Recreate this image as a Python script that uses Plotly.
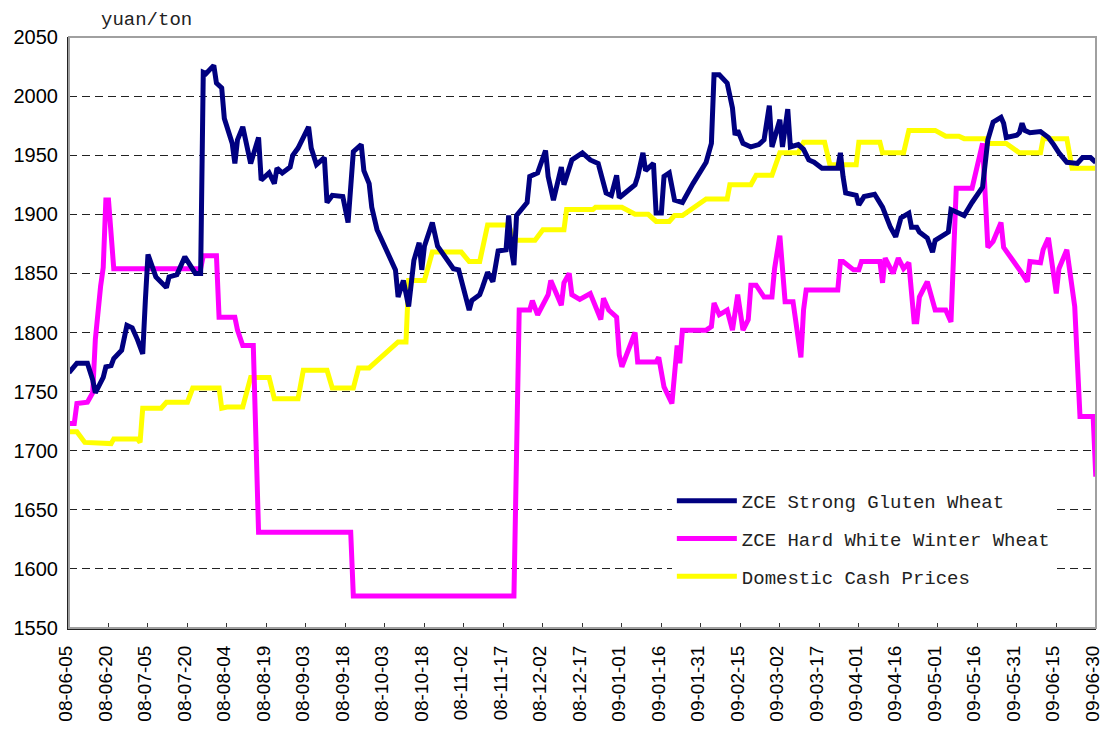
import plotly.graph_objects as go

# ---- ZCE Strong Gluten Wheat ----
sg_dates = ["2008-06-05","2008-06-08","2008-06-12","2008-06-14","2008-06-15","2008-06-18","2008-06-19","2008-06-21","2008-06-22","2008-06-25",
"2008-06-27","2008-06-29","2008-07-01","2008-07-03","2008-07-04","2008-07-05","2008-07-08","2008-07-12","2008-07-13","2008-07-16",
"2008-07-19","2008-07-22","2008-07-23","2008-07-25","2008-07-26","2008-07-27","2008-07-30","2008-07-31","2008-08-02","2008-08-03",
"2008-08-05","2008-08-06","2008-08-07","2008-08-08","2008-08-10","2008-08-13","2008-08-16","2008-08-17","2008-08-20","2008-08-22",
"2008-08-23","2008-08-25","2008-08-28","2008-08-29","2008-08-31","2008-09-04","2008-09-05","2008-09-07","2008-09-10","2008-09-11",
"2008-09-13","2008-09-17","2008-09-19","2008-09-21","2008-09-24","2008-09-25","2008-09-27","2008-09-28","2008-09-30","2008-10-07",
"2008-10-08","2008-10-10","2008-10-12","2008-10-14","2008-10-16","2008-10-17","2008-10-18","2008-10-21","2008-10-23","2008-10-27",
"2008-10-29","2008-10-31","2008-11-02","2008-11-04","2008-11-05","2008-11-08","2008-11-09","2008-11-11","2008-11-13","2008-11-15",
"2008-11-18","2008-11-19","2008-11-20","2008-11-21","2008-11-22","2008-11-24","2008-11-26","2008-11-27","2008-11-30","2008-12-03",
"2008-12-04","2008-12-06","2008-12-09","2008-12-10","2008-12-13","2008-12-17","2008-12-20","2008-12-23","2008-12-26","2008-12-28",
"2008-12-30","2008-12-31","2009-01-03","2009-01-06","2009-01-07","2009-01-09","2009-01-10","2009-01-13","2009-01-14","2009-01-16",
"2009-01-17","2009-01-19","2009-01-21","2009-01-24","2009-01-28","2009-02-02","2009-02-04","2009-02-05","2009-02-07","2009-02-10",
"2009-02-12","2009-02-13","2009-02-14","2009-02-16","2009-02-19","2009-02-22","2009-02-24","2009-02-26","2009-02-27","2009-03-02",
"2009-03-03","2009-03-05","2009-03-06","2009-03-09","2009-03-11","2009-03-13","2009-03-15","2009-03-18","2009-03-24","2009-03-25",
"2009-03-26","2009-03-27","2009-03-31","2009-04-01","2009-04-03","2009-04-07","2009-04-10","2009-04-13","2009-04-15","2009-04-17",
"2009-04-20","2009-04-21","2009-04-23","2009-04-24","2009-04-27","2009-04-29","2009-04-30","2009-05-05","2009-05-06","2009-05-08",
"2009-05-11","2009-05-14","2009-05-18","2009-05-20","2009-05-22","2009-05-25","2009-05-26","2009-05-27","2009-05-31","2009-06-01",
"2009-06-02","2009-06-03","2009-06-05","2009-06-09","2009-06-12","2009-06-14","2009-06-16","2009-06-19","2009-06-23","2009-06-25",
"2009-06-28","2009-06-30"]
sg_values = [1766,1774,1774,1760,1749,1762,1771,1772,1778,1785,
1806,1804,1794,1782,1827,1866,1847,1838,1847,1849,
1864,1854,1850,1850,2020,2019,2026,2011,2007,1981,
1967,1960,1943,1963,1974,1943,1965,1929,1935,1926,
1939,1935,1940,1950,1956,1974,1956,1942,1948,1910,
1916,1915,1893,1953,1959,1937,1926,1906,1887,1853,
1830,1844,1822,1861,1876,1853,1873,1893,1873,1861,
1854,1853,1836,1819,1827,1832,1838,1851,1843,1869,
1870,1899,1870,1857,1899,1905,1910,1932,1935,1954,
1932,1912,1940,1925,1946,1952,1946,1943,1918,1916,
1933,1914,1920,1925,1932,1952,1937,1943,1901,1901,
1932,1935,1912,1910,1926,1944,1960,2018,2018,2011,
1990,1967,1971,1960,1957,1959,1963,1992,1957,1980,
1957,1989,1957,1959,1955,1946,1944,1939,1939,1952,
1932,1918,1916,1908,1915,1917,1906,1889,1881,1897,
1901,1889,1889,1885,1880,1868,1878,1885,1904,1902,
1899,1910,1923,1963,1978,1982,1977,1965,1967,1969,
1977,1971,1969,1970,1965,1959,1952,1944,1943,1948,
1948,1944]

# ---- ZCE Hard White Winter Wheat ----
hw_dates = ["2008-06-05","2008-06-07","2008-06-08","2008-06-12","2008-06-14","2008-06-15","2008-06-17","2008-06-18","2008-06-19","2008-06-20",
"2008-06-22","2008-07-25","2008-07-26","2008-07-31","2008-08-01","2008-08-07","2008-08-08","2008-08-10","2008-08-14","2008-08-16",
"2008-09-20","2008-09-21","2008-11-21","2008-11-23","2008-11-27","2008-11-28","2008-11-30","2008-12-04","2008-12-05","2008-12-09",
"2008-12-10","2008-12-12","2008-12-13","2008-12-16","2008-12-20","2008-12-24","2008-12-25","2008-12-27","2008-12-30","2008-12-31",
"2009-01-01","2009-01-06","2009-01-07","2009-01-14","2009-01-15","2009-01-17","2009-01-20","2009-01-22","2009-01-23","2009-01-24",
"2009-02-02","2009-02-04","2009-02-05","2009-02-07","2009-02-10","2009-02-12","2009-02-14","2009-02-16","2009-02-18","2009-02-19",
"2009-02-21","2009-02-24","2009-02-27","2009-02-28","2009-03-02","2009-03-04","2009-03-07","2009-03-10","2009-03-11","2009-03-12",
"2009-03-24","2009-03-25","2009-03-26","2009-03-30","2009-04-01","2009-04-02","2009-04-09","2009-04-10","2009-04-11","2009-04-14",
"2009-04-16","2009-04-18","2009-04-20","2009-04-22","2009-04-23","2009-04-24","2009-04-27","2009-04-29","2009-04-30","2009-05-04",
"2009-05-06","2009-05-08","2009-05-14","2009-05-18","2009-05-20","2009-05-22","2009-05-25","2009-05-26","2009-06-01","2009-06-02",
"2009-06-04","2009-06-05","2009-06-09","2009-06-10","2009-06-12","2009-06-15","2009-06-16","2009-06-19","2009-06-22","2009-06-24",
"2009-06-29","2009-06-30"]
hw_values = [1723,1723,1740,1741,1749,1794,1839,1855,1912,1912,
1854,1854,1865,1865,1813,1813,1802,1789,1789,1631,
1631,1577,1577,1819,1819,1827,1815,1832,1844,1823,
1842,1850,1832,1828,1833,1811,1829,1819,1813,1781,
1771,1800,1775,1775,1779,1754,1740,1789,1774,1802,
1802,1805,1825,1815,1819,1802,1832,1802,1811,1840,
1840,1830,1830,1854,1882,1826,1826,1779,1819,1836,
1836,1860,1860,1853,1853,1860,1860,1842,1863,1850,
1863,1854,1859,1809,1809,1830,1843,1827,1819,1819,
1809,1922,1922,1960,1872,1877,1893,1872,1854,1850,
1843,1860,1859,1870,1880,1833,1854,1870,1822,1729,
1729,1678]

# ---- Domestic Cash Prices ----
cp_dates = ["2008-06-05","2008-06-08","2008-06-11","2008-06-21","2008-06-22","2008-07-01","2008-07-02","2008-07-03","2008-07-10","2008-07-12",
"2008-07-20","2008-07-22","2008-08-01","2008-08-02","2008-08-04","2008-08-10","2008-08-13","2008-08-20","2008-08-22","2008-08-31",
"2008-09-02","2008-09-11","2008-09-13","2008-09-21","2008-09-23","2008-09-27","2008-10-08","2008-10-11","2008-10-12","2008-10-18",
"2008-10-21","2008-11-01","2008-11-04","2008-11-08","2008-11-11","2008-11-19","2008-11-21","2008-11-29","2008-12-02","2008-12-10",
"2008-12-11","2008-12-21","2008-12-22","2009-01-01","2009-01-06","2009-01-11","2009-01-14","2009-01-19","2009-01-21","2009-01-24",
"2009-02-02","2009-02-10","2009-02-11","2009-02-19","2009-02-21","2009-02-27","2009-03-02","2009-03-09","2009-03-11","2009-03-19",
"2009-03-21","2009-03-31","2009-04-01","2009-04-09","2009-04-10","2009-04-18","2009-04-20","2009-04-30","2009-05-04","2009-05-09",
"2009-05-11","2009-05-19","2009-05-20","2009-05-27","2009-06-01","2009-06-09","2009-06-10","2009-06-19","2009-06-21","2009-06-30"]
cp_values = [1716,1716,1707,1706,1710,1710,1707,1736,1736,1741,
1741,1753,1753,1736,1737,1737,1762,1762,1744,1744,
1768,1768,1753,1753,1770,1770,1792,1792,1844,1844,
1868,1868,1860,1860,1891,1891,1878,1878,1887,1887,
1904,1904,1906,1906,1900,1900,1894,1894,1899,1899,
1913,1913,1925,1925,1933,1933,1952,1952,1961,1961,
1942,1942,1961,1961,1952,1952,1971,1971,1966,1966,
1964,1964,1960,1960,1952,1952,1964,1964,1939,1939]

series_names = ["ZCE Strong Gluten Wheat", "ZCE Hard White Winter Wheat", "Domestic Cash Prices"]
series_colors = ["#000080", "#FF00FF", "#FFFF00"]
y_unit = "yuan/ton"

fig = go.Figure()
series = [(sg_dates, sg_values), (hw_dates, hw_values), (cp_dates, cp_values)]
# draw yellow first, navy last (on top), legend keeps navy / magenta / yellow order
for i in [2, 1, 0]:
    xs, ys = series[i]
    fig.add_trace(go.Scatter(
        x=xs, y=ys, mode="lines", name=series_names[i],
        legendgroup="g%d" % i, legendrank=i + 1,
        line=dict(color=series_colors[i], width=5),
    ))

fig.update_layout(
    width=1105, height=731,
    margin=dict(l=69, r=9, t=37, b=103, autoexpand=False),
    paper_bgcolor="white", plot_bgcolor="white",
    showlegend=True,
    legend=dict(
        x=0.587, y=0.247, xanchor="left", yanchor="top",
        bgcolor="white",
        font=dict(family="Liberation Mono", size=19, color="#222222"),
        traceorder="grouped", tracegroupgap=10,
        itemwidth=60,
    ),
    annotations=[dict(
        text=y_unit, xref="paper", yref="paper", x=0.075, y=1.0, yshift=17,
        xanchor="center", yanchor="middle", showarrow=False,
        font=dict(family="Liberation Mono", size=19, color="#222222"),
    )],
    shapes=[dict(type="rect", xref="paper", yref="paper", x0=0, x1=1, y0=0, y1=1,
                 line=dict(color="#A0A0A0", width=2), layer="above")],
)
fig.update_xaxes(
    type="date", range=["2008-06-05", "2009-06-30 02:00"],
    tick0="2008-06-05", dtick=15 * 86400000, tickformat="%y-%m-%d",
    tickangle=-90, ticks="inside", ticklen=5, tickcolor="#333333",
    showgrid=False, showline=True, linecolor="#222222", linewidth=2,
    tickfont=dict(family="Arial", size=19, color="black"),
    ticklabelstandoff=8, ticklabelshift=-3, automargin=False, ticklabeloverflow="allow",
)
fig.update_yaxes(
    range=[1550, 2050], dtick=50, tick0=1550,
    showgrid=True, gridcolor="#222222", gridwidth=1, griddash="8px,5px",
    showline=True, linecolor="#222222", linewidth=2, ticks="",
    tickfont=dict(family="Arial", size=20, color="black"),
    ticklabelstandoff=5, zeroline=False, automargin=False,
)
fig.write_html("out.html", config={"displayModeBar": False},
               post_script="document.body.style.margin='0';")
